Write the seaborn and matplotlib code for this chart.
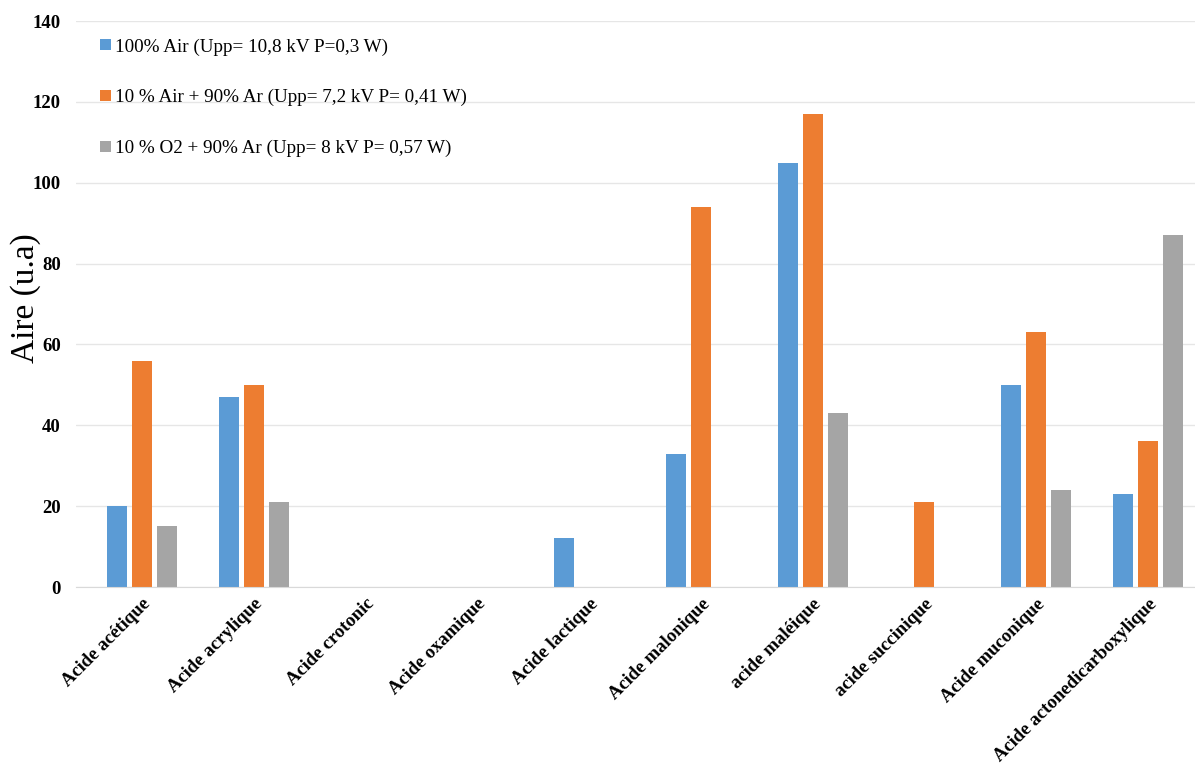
import pandas as pd
import matplotlib.pyplot as plt
import seaborn as sns

acides = ['Acide acétique', 'Acide acrylique', 'Acide crotonic', 'Acide oxamique',
          'Acide lactique', 'Acide malonique', 'acide maléique', 'acide succinique',
          'Acide muconique', 'Acide actonedicarboxylique']
series = ['100% Air (Upp= 10,8 kV P=0,3 W)',
          '10 % Air + 90% Ar (Upp= 7,2 kV P= 0,41 W)',
          '10 % O2 + 90% Ar (Upp= 8 kV P= 0,57 W)']
air = [20, 47, 0, 0, 12, 33, 105, 0, 50, 23]
air_ar = [56, 50, 0, 0, 0, 94, 117, 21, 63, 36]
o2_ar = [15, 21, 0, 0, 0, 0, 43, 0, 24, 87]
couleurs = ['#5B9BD5', '#ED7D31', '#A5A5A5']

df = pd.DataFrame({
    'acide': acides * 3,
    'serie': [series[0]] * 10 + [series[1]] * 10 + [series[2]] * 10,
    'aire': air + air_ar + o2_ar,
})

sns.set_style('white')
plt.rcParams['font.family'] = ['Liberation Serif', 'DejaVu Serif']

fig = plt.figure(figsize=(11.95, 7.71), dpi=100)
ax = fig.add_axes([76 / 1195, (771 - 587) / 771, 1 - 76 / 1195, (587 - 21) / 771])

sns.barplot(data=df, x='acide', y='aire', hue='serie', order=acides, hue_order=series,
            palette=couleurs, width=0.67, gap=0.2, linewidth=0, saturation=1, ax=ax)

ax.set_ylim(0, 140)
ax.set_xlim(-0.59, 9.42)
ax.set_yticks(range(0, 141, 20))
ax.yaxis.grid(True, color='#e6e6e6', linewidth=1)
ax.set_axisbelow(True)
for s in ['top', 'right', 'left']:
    ax.spines[s].set_visible(False)
ax.spines['bottom'].set_color('#d9d9d9')
ax.tick_params(axis='y', length=0, pad=11, labelsize=13.5, labelcolor='black')
ax.tick_params(axis='x', length=0, pad=6, labelsize=13.5, labelcolor='black')
for lab in ax.get_yticklabels():
    lab.set_fontweight('bold')
plt.setp(ax.get_xticklabels(), rotation=45, ha='right', rotation_mode='anchor', fontweight='bold')

ax.set_xlabel('')
ax.set_ylabel('Aire (u.a)', fontsize=24, color='black')
ax.yaxis.set_label_coords(-0.031, 0.51)

ax.legend(loc='upper left', bbox_to_anchor=(0.006, 1.0), frameon=False, fontsize=13.8,
          handlelength=0.55, handleheight=0.55, handletextpad=0.25, labelspacing=1.75,
          labelcolor='black')

fig.savefig('out.png', dpi=100)
